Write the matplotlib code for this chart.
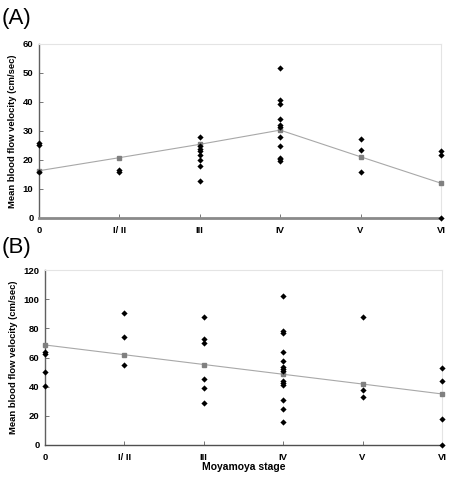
#!/usr/bin/env python3

"""
Mean blood flow velocity by Moyamoya stage, two panels (A) and (B).
"""

import matplotlib
matplotlib.use('Agg')
import matplotlib.pyplot as plt

# Stage labels
stageLabels = ['0', 'I/ II', 'III', 'IV', 'V', 'VI']

# Panel A individual values per stage
panelAValues = [
    [26.0, 25.2, 15.7],
    [16.6, 15.8],
    [28.0, 24.9, 23.8, 23.2, 21.7, 20.0, 17.9, 12.9],
    [51.6, 40.8, 39.2, 34.1, 32.0, 31.3, 28.0, 24.9, 20.8, 20.2, 19.8],
    [27.1, 23.4, 15.9],
    [23.0, 21.8, 0.0],
]
# Panel A stage means
panelAMeans = [16.3, 20.8, 25.4, 30.3, 21.1, 12.0]

# Panel B individual values per stage
panelBValues = [
    [64.0, 62.4, 49.8, 40.5],
    [90.7, 73.9, 54.9],
    [88.0, 72.9, 70.2, 45.5, 39.1, 28.6],
    [102.0, 78.4, 77.0, 64.0, 57.8, 53.3, 51.9, 50.5, 44.1, 42.7, 41.4, 31.1, 24.7, 15.8],
    [88.0, 37.7, 32.7],
    [53.0, 43.7, 17.8, 0.0],
]
# Panel B fitted trend
panelBTrend = [68.6, 61.9, 55.2, 48.5, 41.8, 35.0]

FONT = 'Liberation Sans'


def drawPanel(ax, values, trend, yMax, yStep, bottomWidth, bottomColor):
    """
    Draw one scatter panel with its gray trend line.
    """
    # Scatter of individual values
    for index, stageValues in enumerate(values):
        ax.scatter([index] * len(stageValues), stageValues, marker='D', s=10,
                   color='black', linewidths=0, zorder=4, clip_on=False)

    # Trend line with gray squares
    ax.plot(range(len(trend)), trend, color='#a8a8a8', linewidth=0.8,
            marker='s', markersize=2.6, markerfacecolor='#808080',
            markeredgecolor='#808080', zorder=3, clip_on=False)

    # Axes styling
    ax.set_xlim(0, len(stageLabels) - 1)
    ax.set_ylim(0, yMax)
    ax.set_xticks(range(len(stageLabels)))
    ax.set_xticklabels(stageLabels)
    ax.set_yticks(range(0, yMax + 1, yStep))
    for spine in ['top', 'right']:
        ax.spines[spine].set_color('#e4e4e4')
        ax.spines[spine].set_linewidth(0.8)
    ax.spines['left'].set_color('#606060')
    ax.spines['left'].set_linewidth(1.0)
    ax.spines['bottom'].set_color(bottomColor)
    ax.spines['bottom'].set_linewidth(bottomWidth)
    ax.tick_params(axis='both', direction='in', length=3, width=0.6,
                   color='#606060', labelsize=6.8)
    ax.tick_params(axis='x', pad=6)
    ax.tick_params(axis='y', pad=4)
    for label in ax.get_xticklabels() + ax.get_yticklabels():
        label.set_fontweight('bold')
        label.set_fontfamily(FONT)
    ax.set_ylabel('Mean blood flow velocity (cm/sec)', fontsize=6.8,
                  fontweight='bold', fontfamily=FONT, labelpad=4)


def main():
    fig = plt.figure(figsize=(4.56, 4.79), dpi=100)

    # Panel A
    axA = fig.add_axes([0.0855, 0.5449, 0.8816, 0.3633])
    drawPanel(axA, panelAValues, panelAMeans, 60, 10, 2.0, '#8a8a8a')

    # Panel B
    axB = fig.add_axes([0.0987, 0.0710, 0.8706, 0.3653])
    drawPanel(axB, panelBValues, panelBTrend, 120, 20, 1.0, '#505050')
    axB.set_xlabel('Moyamoya stage', fontsize=7.5, fontweight='bold',
                   fontfamily=FONT, labelpad=0)

    # Panel letters
    fig.text(0.004, 0.962, '(A)', fontsize=16, fontfamily=FONT, va='center')
    fig.text(0.004, 0.483, '(B)', fontsize=16, fontfamily=FONT, va='center')

    fig.savefig('out.png', dpi=100)


if __name__ == "__main__":
    main()
